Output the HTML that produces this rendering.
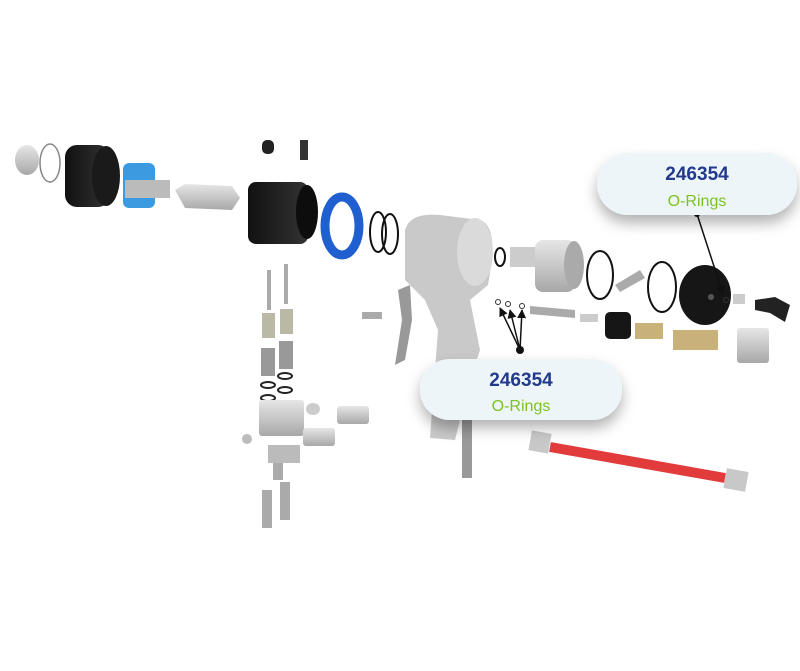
<!DOCTYPE html>
<html><head><style>
html,body{margin:0;padding:0;background:#fff;}
svg{display:block}
.n{font-family:"Liberation Sans",sans-serif;font-weight:bold;fill:#233a8c;font-size:19px;text-anchor:middle;}
.g{font-family:"Liberation Sans",sans-serif;fill:#7cc321;font-size:16px;text-anchor:middle;}
</style></head><body>
<svg width="800" height="671" viewBox="0 0 800 671" xmlns="http://www.w3.org/2000/svg">
<defs>
<filter id="sh" x="-20%" y="-20%" width="140%" height="180%"><feDropShadow dx="0" dy="8" stdDeviation="7" flood-color="#000" flood-opacity="0.3"/></filter>
<linearGradient id="gr" x1="0" y1="0" x2="0" y2="1"><stop offset="0" stop-color="#e6e6e6"/><stop offset="1" stop-color="#a8a8a8"/></linearGradient>
<linearGradient id="bl" x1="0" y1="0" x2="1" y2="0"><stop offset="0" stop-color="#111"/><stop offset="1" stop-color="#333"/></linearGradient>
<marker id="ar" viewBox="0 0 10 10" refX="9" refY="5" markerWidth="6" markerHeight="6" orient="auto"><path d="M0,0 L10,5 L0,10 z" fill="#111"/></marker>
</defs>
<ellipse cx="27" cy="160" rx="12" ry="15" fill="url(#gr)"/>
<ellipse cx="50" cy="163" rx="10" ry="19" fill="none" stroke="#888" stroke-width="1.5"/>
<rect x="65" y="145" width="45" height="62" rx="12" fill="url(#bl)"/>
<ellipse cx="106" cy="176" rx="14" ry="30" fill="#1a1a1a"/>
<rect x="123" y="163" width="32" height="45" rx="6" fill="#3c9be0"/>
<rect x="125" y="180" width="45" height="18" fill="#bbb"/>
<polygon points="175,190 185,184 232,186 240,198 232,210 185,208" fill="url(#gr)"/>
<rect x="262" y="140" width="12" height="14" rx="5" fill="#222"/>
<rect x="300" y="140" width="8" height="20" fill="#333"/>
<rect x="248" y="182" width="60" height="62" rx="8" fill="url(#bl)"/>
<ellipse cx="307" cy="212" rx="11" ry="27" fill="#0d0d0d"/>
<ellipse cx="342" cy="226" rx="17" ry="29" fill="none" stroke="#1f5fd0" stroke-width="9"/>
<ellipse cx="378" cy="232" rx="8" ry="20" fill="none" stroke="#111" stroke-width="2"/>
<ellipse cx="390" cy="234" rx="8" ry="20" fill="none" stroke="#111" stroke-width="2"/>
<rect x="267" y="270" width="4" height="40" fill="#aaa"/>
<rect x="284" y="264" width="4" height="40" fill="#aaa"/>
<rect x="262" y="313" width="13" height="25" fill="#b9b9a6"/>
<rect x="280" y="309" width="13" height="25" fill="#b9b9a6"/>
<rect x="261" y="348" width="14" height="28" fill="#999"/>
<rect x="279" y="341" width="14" height="28" fill="#999"/>
<ellipse cx="268" cy="385" rx="7" ry="3" fill="none" stroke="#222" stroke-width="2"/>
<ellipse cx="285" cy="376" rx="7" ry="3" fill="none" stroke="#222" stroke-width="2"/>
<ellipse cx="268" cy="398" rx="7" ry="3" fill="none" stroke="#222" stroke-width="2"/>
<ellipse cx="285" cy="390" rx="7" ry="3" fill="none" stroke="#222" stroke-width="2"/>
<rect x="259" y="400" width="45" height="36" rx="3" fill="url(#gr)"/>
<ellipse cx="313" cy="409" rx="7" ry="6" fill="#ccc"/>
<rect x="337" y="406" width="32" height="18" rx="3" fill="url(#gr)"/>
<rect x="303" y="428" width="32" height="18" rx="3" fill="url(#gr)"/>
<circle cx="247" cy="439" r="5" fill="#bbb"/>
<rect x="268" y="445" width="32" height="18" fill="#bbb"/>
<rect x="273" y="463" width="10" height="17" fill="#aaa"/>
<rect x="262" y="490" width="10" height="38" fill="#aaa"/>
<rect x="280" y="482" width="10" height="38" fill="#aaa"/>
<path d="M405,230 Q410,212 440,215 L480,220 Q495,225 492,260 L488,285 L470,300 L480,350 L470,380 L455,440 L430,438 L438,330 L425,300 L405,280 Z" fill="#c9c9c9"/>
<ellipse cx="475" cy="252" rx="18" ry="34" fill="#dadada"/>
<rect x="462" y="420" width="10" height="58" fill="#999"/>
<path d="M398,290 L410,285 L412,320 L405,360 L395,365 L402,320 Z" fill="#999"/>
<rect x="362" y="312" width="20" height="7" fill="#aaa"/>
<rect x="510" y="247" width="30" height="20" fill="#ccc"/>
<rect x="535" y="240" width="40" height="52" rx="8" fill="url(#gr)"/>
<ellipse cx="574" cy="265" rx="10" ry="24" fill="#aaa"/>
<ellipse cx="500" cy="257" rx="5" ry="9" fill="none" stroke="#111" stroke-width="2"/>
<ellipse cx="600" cy="275" rx="13" ry="24" fill="none" stroke="#111" stroke-width="2"/>
<polygon points="615,285 640,270 645,278 620,292" fill="#aaa"/>
<ellipse cx="662" cy="287" rx="14" ry="25" fill="none" stroke="#111" stroke-width="2"/>
<ellipse cx="705" cy="295" rx="26" ry="30" fill="#161616"/>
<circle cx="711" cy="297" r="3" fill="#555"/>
<rect x="733" y="294" width="12" height="10" fill="#ccc"/>
<path d="M755,300 L775,297 L790,305 L785,322 L770,313 L755,310 Z" fill="#222"/>
<rect x="737" y="328" width="32" height="35" rx="3" fill="url(#gr)"/>
<polygon points="530,306 575,310 575,318 530,314" fill="#aaa"/>
<rect x="580" y="314" width="18" height="8" fill="#ccc"/>
<rect x="605" y="312" width="26" height="27" rx="5" fill="#161616"/>
<rect x="635" y="323" width="28" height="16" fill="#c9b27a"/>
<rect x="673" y="330" width="45" height="20" fill="#c9b27a"/>
<circle cx="498" cy="302" r="2.5" fill="none" stroke="#333"/>
<circle cx="508" cy="304" r="2.5" fill="none" stroke="#333"/>
<circle cx="522" cy="306" r="2.5" fill="none" stroke="#333"/>
<circle cx="726" cy="300" r="2.5" fill="none" stroke="#333"/>
<rect x="530" y="432" width="20" height="20" fill="#c8c8c8" transform="rotate(10 540 442)"/>
<line x1="550" y1="447" x2="725" y2="478" stroke="#e23b3b" stroke-width="10"/>
<rect x="725" y="470" width="22" height="20" fill="#c8c8c8" transform="rotate(10 736 480)"/>
<g stroke="#111" stroke-width="1.5" fill="none">
<line x1="520" y1="350" x2="500" y2="308" marker-end="url(#ar)"/>
<line x1="520" y1="350" x2="510" y2="310" marker-end="url(#ar)"/>
<line x1="520" y1="350" x2="522" y2="310" marker-end="url(#ar)"/>
<line x1="697" y1="214" x2="723" y2="294" marker-end="url(#ar)"/>
</g>
<circle cx="520" cy="350" r="4" fill="#111"/>
<circle cx="697" cy="214" r="3" fill="#111"/>
<rect x="597" y="153" width="200" height="62" rx="31" fill="#eef5f8" filter="url(#sh)"/>
<text x="697" y="180" class="n">246354</text>
<text x="697" y="206" class="g">O-Rings</text>
<rect x="420" y="359" width="202" height="61" rx="30" fill="#eef5f8" filter="url(#sh)"/>
<text x="521" y="386" class="n">246354</text>
<text x="521" y="411" class="g">O-Rings</text>
</svg>
</body></html>
